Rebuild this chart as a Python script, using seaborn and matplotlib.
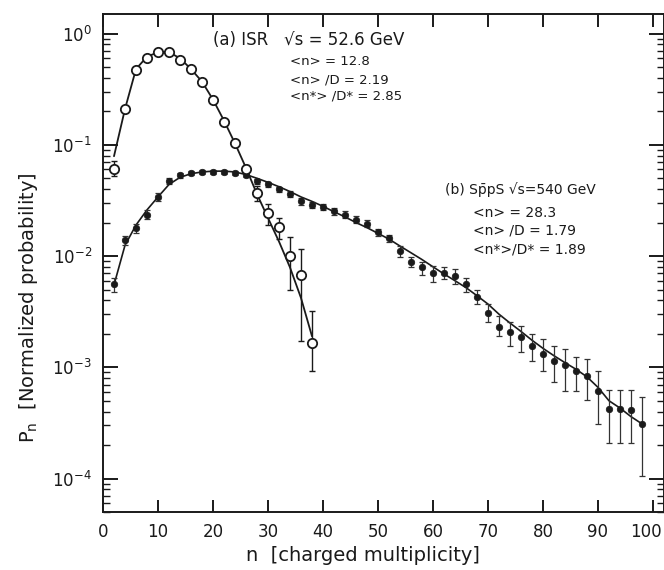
import numpy as np
import pandas as pd
import matplotlib
matplotlib.use("Agg")
import matplotlib.pyplot as plt
import matplotlib.transforms as mtransforms
import seaborn as sns

# (a) ISR sqrt(s)=52.6 GeV, open circles
n_isr = [2, 4, 6, 8, 10, 12, 14, 16, 18, 20, 22, 24, 26, 28, 30, 32, 34, 36, 38]
p_isr = [0.061, 0.21, 0.475, 0.60, 0.69, 0.69, 0.58, 0.48, 0.37, 0.255, 0.16, 0.103,
         0.061, 0.037, 0.0246, 0.0181, 0.0100, 0.0068, 0.00167]
isr_lo = [0.052, 0.20, 0.45, 0.57, 0.66, 0.66, 0.55, 0.46, 0.355, 0.245, 0.153, 0.098,
          0.057, 0.031, 0.0192, 0.0141, 0.0050, 0.00171, 0.00092]
isr_hi = [0.071, 0.22, 0.50, 0.63, 0.72, 0.72, 0.61, 0.50, 0.385, 0.265, 0.167, 0.108,
          0.066, 0.043, 0.0291, 0.0222, 0.0147, 0.0115, 0.00318]
# fitted curve (a)
fit_a_n = [2, 4, 6, 8, 10, 12, 14, 16, 18, 20, 22, 24, 26, 28, 30, 32, 34, 36, 38]
fit_a_p = [0.079, 0.21, 0.48, 0.62, 0.68, 0.68, 0.60, 0.48, 0.37, 0.255, 0.165, 0.103,
           0.062, 0.036, 0.022, 0.0135, 0.0079, 0.0042, 0.0019]

# (b) SppS sqrt(s)=540 GeV, filled dots
n_spps = list(range(2, 100, 2))
p_spps = [0.0056, 0.0138, 0.0177, 0.0236, 0.0343, 0.0468, 0.053, 0.056, 0.057, 0.057,
          0.057, 0.056, 0.054, 0.047, 0.044, 0.0397, 0.0365, 0.031, 0.029, 0.0274,
          0.0252, 0.0236, 0.0213, 0.0196, 0.0163, 0.0144, 0.0110, 0.0089, 0.0079, 0.0071,
          0.0071, 0.0066, 0.0056, 0.00425, 0.0031, 0.0023, 0.00206, 0.00186, 0.00154, 0.00131,
          0.00115, 0.00104, 0.00092, 0.00083, 0.00061, 0.00042, 0.00042, 0.00041, 0.00031]
spps_lo = [0.0048, 0.0125, 0.0160, 0.0215, 0.0315, 0.0440, 0.0505, 0.0535, 0.0545, 0.0545,
           0.0545, 0.0535, 0.0515, 0.0445, 0.0415, 0.0375, 0.0343, 0.0290, 0.0272, 0.0257,
           0.0236, 0.0220, 0.0198, 0.0182, 0.0151, 0.0133, 0.0099, 0.0079, 0.0068, 0.0059,
           0.0062, 0.0056, 0.0048, 0.00367, 0.00253, 0.00190, 0.00154, 0.00136, 0.00113, 0.00092,
           0.00073, 0.00061, 0.00061, 0.00051, 0.00031, 0.00021, 0.00021, 0.00021, 0.000105]
spps_hi = [0.0064, 0.0152, 0.0195, 0.0258, 0.0372, 0.0498, 0.0556, 0.0585, 0.0595, 0.0595,
           0.0595, 0.0585, 0.0565, 0.0495, 0.0465, 0.0420, 0.0388, 0.0330, 0.0308, 0.0291,
           0.0268, 0.0252, 0.0228, 0.0210, 0.0175, 0.0155, 0.0122, 0.0099, 0.0089, 0.0081,
           0.0079, 0.0076, 0.0064, 0.0050, 0.00367, 0.00287, 0.00253, 0.00233, 0.00198, 0.00178,
           0.00154, 0.00145, 0.00125, 0.00118, 0.00092, 0.00063, 0.00063, 0.00063, 0.00054]
# fitted curve (b)
fit_b_n = list(range(2, 100, 2))
fit_b_p = [0.0055, 0.0125, 0.019, 0.026, 0.034, 0.044, 0.051, 0.055, 0.057, 0.058,
           0.058, 0.057, 0.054, 0.050, 0.046, 0.042, 0.038, 0.034, 0.031, 0.028,
           0.025, 0.0225, 0.020, 0.018, 0.016, 0.0142, 0.0123, 0.0107, 0.0093, 0.0080,
           0.0069, 0.0060, 0.0052, 0.0044, 0.0037, 0.0030, 0.0025, 0.0021, 0.00175, 0.00148,
           0.00127, 0.00110, 0.00096, 0.00082, 0.00066, 0.00050, 0.00043, 0.00036, 0.00031]

x_ticks = list(range(0, 101, 10))

sns.set_style("ticks")
plt.rcParams['font.family'] = ['DejaVu Sans']

fig = plt.figure(figsize=(6.64, 5.70), dpi=100)
ax = fig.add_axes([103 / 664, 1 - 512 / 570, 561 / 664, 498 / 570])

ink = "#1a1a1a"

# curves
sns.lineplot(x=fit_a_n, y=fit_a_p, ax=ax, color=ink, linewidth=1.3, sort=False)
sns.lineplot(x=fit_b_n, y=fit_b_p, ax=ax, color=ink, linewidth=1.2, sort=False)

# error bars
p_isr_a = np.array(p_isr)
ax.errorbar(n_isr, p_isr, yerr=[p_isr_a - np.array(isr_lo), np.array(isr_hi) - p_isr_a],
            fmt="none", ecolor=ink, elinewidth=1.0, capsize=2.5, capthick=1.0)
p_spps_a = np.array(p_spps)
ax.errorbar(n_spps, p_spps, yerr=[p_spps_a - np.array(spps_lo), np.array(spps_hi) - p_spps_a],
            fmt="none", ecolor="#333333", elinewidth=0.9, capsize=2.5, capthick=0.9)

# points
sns.scatterplot(x=n_spps, y=p_spps, ax=ax, color=ink, s=22, edgecolor=ink, linewidth=0.5, zorder=4)
sns.scatterplot(x=n_isr, y=p_isr, ax=ax, facecolor="white", edgecolor=ink, s=45,
                linewidth=1.3, zorder=5)

ax.set_yscale("log")
ax.set_xlim(0, 102)
ax.set_ylim(5e-5, 1.5)
ax.set_xticks(x_ticks)
ax.set_xticklabels([str(t) for t in x_ticks])

ax.tick_params(which="major", direction="in", length=11, width=1.4, top=True, right=True,
               labelsize=12, colors=ink, pad=8)
ax.tick_params(which="minor", direction="in", length=5, width=1.0, top=False, right=True,
               colors=ink)
ax.tick_params(axis="x", which="major", length=9)
for side in ax.spines.values():
    side.set_linewidth(1.4)
    side.set_color(ink)

# keep the "100" label inside the picture
last = ax.get_xticklabels()[-1]
last.set_transform(last.get_transform() + mtransforms.ScaledTranslation(-5 / 72, 0, fig.dpi_scale_trans))

ax.set_xlabel("n  [charged multiplicity]", fontsize=14, color=ink)
ax.xaxis.set_label_coords(0.463, -0.068)
ax.set_ylabel(r"P$_\mathrm{n}$  [Normalized probability]", fontsize=14, color=ink)
ax.yaxis.set_label_coords(-0.112, 0.41)

# annotations
ax.text(20, 0.88, "(a) ISR   \u221as = 52.6 GeV", fontsize=12, color=ink, va="center")
ax.text(34, 0.56, "<n> = 12.8", fontsize=9.5, color=ink, va="center")
ax.text(34, 0.386, "<n> /D = 2.19", fontsize=9.5, color=ink, va="center")
ax.text(34, 0.272, "<n*> /D* = 2.85", fontsize=9.5, color=ink, va="center")

ax.text(62.2, 0.0397, "(b) Sp\u0304pS \u221as=540 GeV", fontsize=10, color=ink, va="center")
ax.text(67.3, 0.0246, "<n> = 28.3", fontsize=10, color=ink, va="center")
ax.text(67.3, 0.0170, "<n> /D = 1.79", fontsize=10, color=ink, va="center")
ax.text(67.3, 0.0115, "<n*>/D* = 1.89", fontsize=10, color=ink, va="center")

fig.savefig("out.png", dpi=100)
